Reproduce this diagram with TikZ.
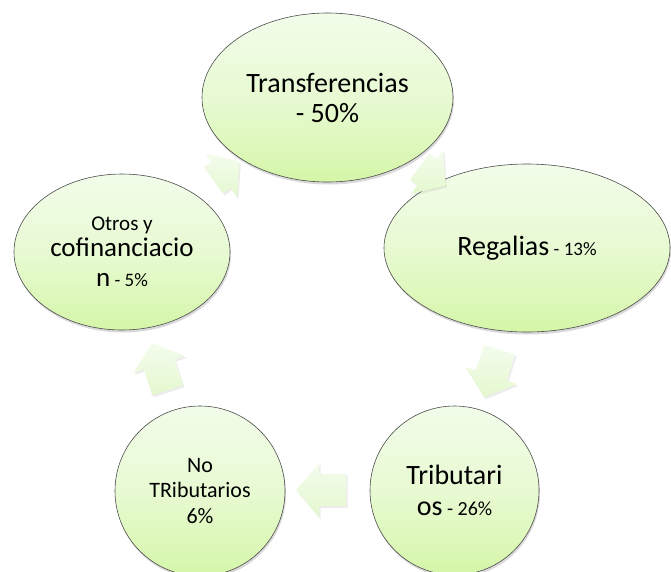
\documentclass[tikz,border=0pt]{standalone}
\usepackage{fontspec}
\setmainfont{Carlito}
\usepackage{xcolor}
\usepackage{tikz}
\usetikzlibrary{shapes,arrows,shadows}
\definecolor{cyclight}{RGB}{242,252,234}
\definecolor{cycgreen}{RGB}{213,246,168}
\definecolor{arrlight}{RGB}{244,252,238}
\definecolor{arrgreen}{RGB}{228,248,206}

\tikzset{
  bubble/.style={ellipse, draw=black!70, line width=0.6pt,
    top color=cyclight, bottom color=cycgreen, middle color=cyclight!65!cycgreen,
    inner sep=0pt, align=center,
    drop shadow={opacity=0.3, shadow xshift=1pt, shadow yshift=-2.5pt}},
  cyclearrow/.style={single arrow, draw=none, top color=arrlight,
    bottom color=arrgreen, inner xsep=0pt, inner ysep=16pt,
    single arrow head extend=11pt, single arrow tip angle=100,
    drop shadow={opacity=0.15, shadow xshift=1.5pt, shadow yshift=-2pt}}
}

\begin{document}
\begin{tikzpicture}[x=1pt, y=-1pt]
    \useasboundingbox (0,0) rectangle (671,571);

    % Sources of income
    \node[bubble, minimum width=251pt, minimum height=169pt,
      font=\fontsize{28}{30}\selectfont] (transf) at (327.5,97.5)
      {Transferencias\\- 50\%};
    \node[bubble, minimum width=286pt, minimum height=168pt,
      font=\fontsize{28}{30}\selectfont] (regal) at (527,248)
      {Regalias{\fontsize{19}{22}\selectfont\ - 13\%}};
    \node[bubble, minimum width=169pt, minimum height=169pt,
      font=\fontsize{28}{31}\selectfont] (trib) at (454.5,490.5)
      {Tributari\\os{\fontsize{20}{22}\selectfont\ - 26\%}};
    \node[bubble, minimum width=170pt, minimum height=170pt,
      font=\fontsize{22}{25.5}\selectfont] (notrib) at (200,491)
      {No\\TRibutarios\\6\%};
    \node[bubble, minimum width=216pt, minimum height=156pt,
      font=\fontsize{27}{28}\selectfont] (otros) at (122,252)
      {{\fontsize{21}{24}\selectfont Otros y}\\[-2pt]cofinanciacio\\[2pt]n{\fontsize{19}{22}\selectfont\ - 5\%}};

    % Cycle arrows
    \node[cyclearrow, minimum height=32pt, rotate=-36] (a1) at (427,172) {};
    \node[cyclearrow, minimum height=50pt, rotate=-108] (a2) at (494,367) {};
    \node[cyclearrow, minimum height=50pt, rotate=180] (a3) at (328,490) {};
    \node[cyclearrow, minimum height=50pt, rotate=108] (a4) at (162,373) {};
    \node[cyclearrow, minimum height=32pt, rotate=36] (a5) at (221,175) {};
\end{tikzpicture}
\end{document}
